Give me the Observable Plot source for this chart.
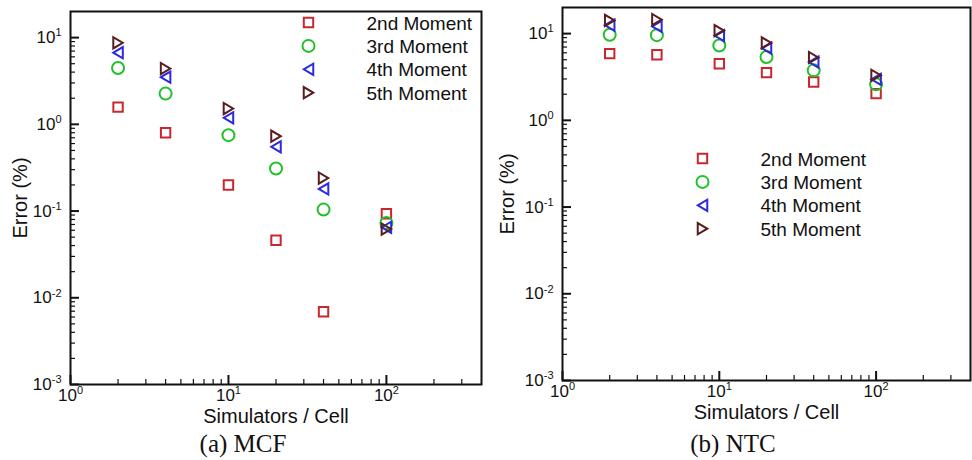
<!DOCTYPE html>
<html><head><meta charset="utf-8">
<script src="https://cdn.jsdelivr.net/npm/d3@7"></script>
<script src="https://cdn.jsdelivr.net/npm/@observablehq/plot@0.6"></script>
<style>
html,body{margin:0;padding:0;background:#fff;}
body{width:972px;height:460px;overflow:hidden;}
#wrap{display:flex;}
.panel{width:486px;}
.cap{height:38px;line-height:44px;text-align:center;font-family:"Liberation Serif","Times New Roman",serif;font-size:25px;color:#111;}
.cap.r{padding-left:8px;}
</style></head>
<body><div id="wrap"></div>
<script>
// ---- data ----
const simulators = [2, 4, 10, 20, 40, 100];
const seriesNames = ["2nd Moment", "3rd Moment", "4th Moment", "5th Moment"];
const mcf2nd = [1.58, 0.80, 0.20, 0.046, 0.0069, 0.093];
const mcf3rd = [4.47, 2.26, 0.75, 0.31, 0.104, 0.073];
const mcf4th = [6.7, 3.5, 1.19, 0.55, 0.18, 0.065];
const mcf5th = [8.7, 4.4, 1.52, 0.73, 0.24, 0.062];
const ntc2nd = [5.88, 5.7, 4.5, 3.55, 2.77, 2.03];
const ntc3rd = [9.7, 9.6, 7.3, 5.37, 3.77, 2.6];
const ntc4th = [12.5, 12.1, 9.5, 6.8, 4.7, 2.97];
const ntc5th = [14.2, 14.5, 10.8, 7.8, 5.3, 3.3];
const xMajorTicks = [1, 10, 100];
const yMajorTicks = [0.001, 0.01, 0.1, 1, 10];
const xLabel = "Simulators / Cell";
const yLabel = "Error (%)";
const captions = ["(a) MCF", "(b) NTC"];

// ---- styling ----
const colors = ["#c8272d", "#22c02a", "#2a2ae0", "#5a1c1c"];
const triLeft = {draw(ctx, size){const r=Math.sqrt(size/Math.PI);ctx.moveTo(-0.85*r,0);ctx.lineTo(0.85*r,-r);ctx.lineTo(0.85*r,r);ctx.closePath();}};
const triRight = {draw(ctx, size){const r=Math.sqrt(size/Math.PI);ctx.moveTo(0.85*r,0);ctx.lineTo(-0.85*r,-r);ctx.lineTo(-0.85*r,r);ctx.closePath();}};
const symbols = ["square", "circle", triLeft, triRight];
const radii = [5.3, 6, 5.6, 5.6];

function minorTicks(majors, max){
  const out=[];
  for(const m of majors){ for(let k=2;k<=9;k++){ const v=m*k; if(v<max) out.push(v);} }
  return out;
}
const fmt = d => "10^" + Math.round(Math.log10(d));

function panel(seriesVals, o){
  const data = [];
  seriesVals.forEach((vals, s) => vals.forEach((v, i) => data.push({x: simulators[i], y: v, s})));
  const marks = [];
  seriesVals.forEach((vals, s) => {
    marks.push(Plot.dot(data.filter(d => d.s === s), {x:"x", y:"y", symbol: symbols[s], r: radii[s], stroke: colors[s], strokeWidth: 2, fill:"none"}));
  });
  // legend
  seriesNames.forEach((name, s) => {
    marks.push(Plot.dot([name], {frameAnchor:"top-left", dx:o.legX, dy:o.legY + s*o.legStep, symbol: symbols[s], r: radii[s], stroke: colors[s], strokeWidth: 2, fill:"none"}));
    marks.push(Plot.text([name], {frameAnchor:"top-left", dx:o.legX + 58, dy:o.legY + s*o.legStep + 1, text: d=>d, textAnchor:"start", lineAnchor:"middle", fontSize: 19, fill:"#111"}));
  });
  marks.push(
    Plot.axisX(xMajorTicks, {tickSize:-9, text:null, strokeWidth:2, label:null}),
    Plot.axisX(minorTicks([1,10,100], 350), {tickSize:-5, text:null, strokeWidth:1.2, label:null}),
    Plot.axisX(xMajorTicks, {tickSize:0, tickPadding:4, tickFormat: fmt, fontSize: 17, label:null}),
    Plot.axisY(yMajorTicks, {tickSize:-9, text:null, strokeWidth:2, label:null}),
    Plot.axisY(minorTicks([0.001,0.01,0.1,1], 10), {tickSize:-5, text:null, strokeWidth:1.2, label:null}),
    Plot.axisY(yMajorTicks, {tickSize:0, tickPadding:9, tickFormat: fmt, fontSize: 17, label:null}),
    Plot.frame({stroke:"#111", strokeWidth:2}),
    Plot.text([xLabel], {frameAnchor:"bottom", dy:o.xLabelDy, text:d=>d, lineAnchor:"middle", textAnchor:"middle", fontSize:20, fill:"#111"}),
    Plot.text([yLabel], {frameAnchor:"left", dx:-o.yLabelDx, text:d=>d, rotate:-90, lineAnchor:"middle", textAnchor:"middle", fontSize:20, fill:"#111"})
  );
  const svg = Plot.plot({
    width: 486, height: 422,
    marginLeft: o.ml, marginRight: o.mr, marginTop: o.mt, marginBottom: o.mb,
    x: {type:"log", domain:[1, 400]},
    y: {type:"log", domain:[0.001, 20]},
    style: {fontFamily:"'Liberation Sans', Arial, Helvetica, sans-serif", background:"white", overflow:"visible", color:"#111"},
    marks
  });
  // superscript exponents
  d3.select(svg).selectAll("text").each(function(){
    const t = this.textContent;
    if (t.includes("^")) {
      const [base, exp] = t.split("^");
      const sel = d3.select(this);
      sel.text(null);
      sel.append("tspan").text(base);
      sel.append("tspan").attr("font-size", 11).attr("dy", "-0.6em").text(exp);
    }
  });
  return svg;
}

const wrap = document.getElementById("wrap");
const cfgs = [
  {vals:[mcf2nd, mcf3rd, mcf4th, mcf5th], ml:70, mr:5, mt:11, mb:38, legX:238, legY:11, legStep:23.4, yLabelDx:50, xLabelDy:32},
  {vals:[ntc2nd, ntc3rd, ntc4th, ntc5th], ml:76, mr:2, mt:7, mb:42, legX:140, legY:151, legStep:23.4, yLabelDx:55, xLabelDy:32}
];
cfgs.forEach((c, i) => {
  const div = document.createElement("div");
  div.className = "panel";
  div.appendChild(panel(c.vals, c));
  const cap = document.createElement("div");
  cap.className = "cap" + (i ? " r" : "");
  cap.textContent = captions[i];
  div.appendChild(cap);
  wrap.appendChild(div);
});
</script>
</body></html>
